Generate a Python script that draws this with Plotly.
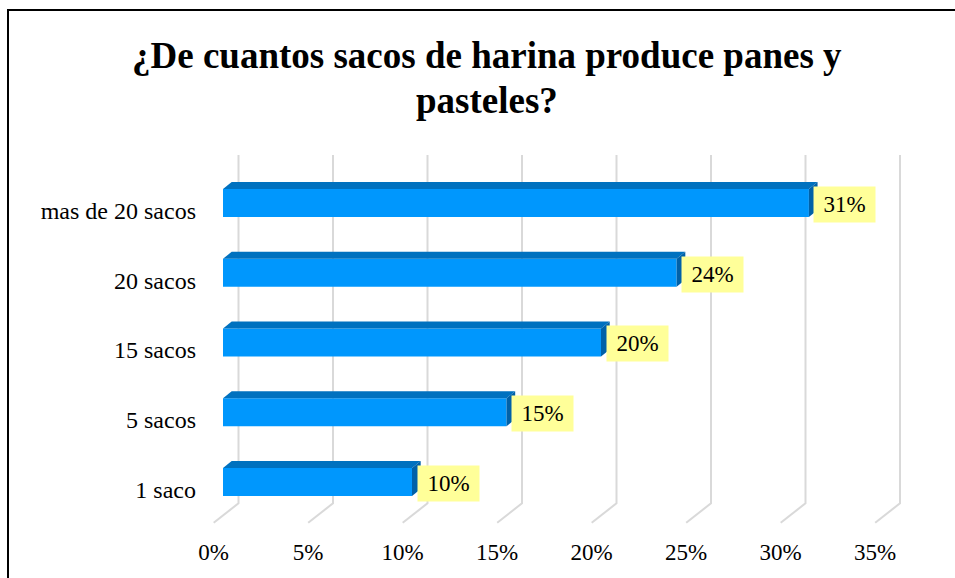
import plotly.graph_objects as go

# Survey answers: how many sacks of flour go into bread and cakes
categories = ["1 saco", "5 sacos", "15 sacos", "20 sacos", "mas de 20 sacos"]
shares = [10, 15, 20, 24, 31]          # percent of respondents
x_ticks = [0, 5, 10, 15, 20, 25, 30, 35]
title_lines = ["¿De cuantos sacos de harina produce panes y", "pasteles?"]

FONT = "Liberation Serif"
W, H = 955, 578
L, R, T, B = 205, 10, 150, 48
PW, PH = W - L - R, H - T - B

FRONT = "#0097FD"
TOP = "#0071BF"
SIDE = "#0061A8"
GRID = "#D9D9D9"

# pseudo-3D geometry, in axis units
PX_PER_PCT = 18.9
PX_PER_CAT = 69.75
bar_lo, bar_w = -0.093, 0.401        # front face relative to category centre
depth_dx, depth_dy = 0.46, 0.10      # bar depth (top / side faces)
wall_dx = 0.82                       # back wall offset of the grid
floor_dx = -0.492                    # front edge of the floor
grid_top, wall_base, floor_front = 4.796, -0.198, -0.476

x_range = [(L - 223) / PX_PER_PCT, (W - R - 223) / PX_PER_PCT]
lab_range = [x_range[0] - floor_dx, x_range[1] - floor_dx]
y_range = [-(T + PH - 489.5) / PX_PER_CAT, 4 + (210.5 - T) / PX_PER_CAT]

ypos = list(range(len(categories)))


def px_to_paper(px, py):
    return (px - L) / PW, 1 - (py - T) / PH


fig = go.Figure()

fig.add_trace(go.Bar(
    x=shares, y=ypos, orientation="h",
    base=0, width=bar_w, offset=bar_lo,
    marker=dict(color=FRONT, line=dict(width=0)),
    hoverinfo="skip", showlegend=False,
))
# overlay axis that carries the percentage tick labels along the floor edge
fig.add_trace(go.Scatter(x=[None], y=[None], xaxis="x2", yaxis="y",
                         showlegend=False, hoverinfo="skip"))

shapes = []
# back-wall gridlines bending onto the floor
for v in x_ticks:
    xb = v + wall_dx
    xf = v + floor_dx
    shapes.append(dict(type="path", xref="x", yref="y", layer="below",
                       path=f"M {xb},{grid_top} L {xb},{wall_base} L {xf},{floor_front}",
                       line=dict(color=GRID, width=2)))

# top and side faces of each bar
for yc, v in zip(ypos, shares):
    ft = yc + bar_lo + bar_w
    fb = yc + bar_lo
    shapes.append(dict(type="path", xref="x", yref="y",
                       path=(f"M 0,{ft} L {v},{ft} L {v + depth_dx},{ft + depth_dy} "
                             f"L {depth_dx},{ft + depth_dy} Z"),
                       fillcolor=TOP, line=dict(width=0)))
    shapes.append(dict(type="path", xref="x", yref="y",
                       path=(f"M {v},{ft} L {v + depth_dx},{ft + depth_dy} "
                             f"L {v + depth_dx},{fb + depth_dy} L {v},{fb} Z"),
                       fillcolor=SIDE, line=dict(width=0)))

# outer frame of the chart
bx0, by0 = px_to_paper(8, 10)
bx1, by1 = px_to_paper(W + 20, H + 20)
shapes.append(dict(type="rect", xref="paper", yref="paper",
                   x0=bx0, y0=by1, x1=bx1, y1=by0,
                   line=dict(color="black", width=2), fillcolor="rgba(0,0,0,0)"))

annotations = []
for yc, v in zip(ypos, shares):
    annotations.append(dict(
        x=v, y=yc + 0.088, xref="x", yref="y",
        text=f"{v}%", showarrow=False,
        xanchor="left", yanchor="middle", xshift=4.5,
        width=61, height=35, align="center", valign="middle",
        bgcolor="#FFFF99", borderpad=0,
        font=dict(family=FONT, size=23, color="black"),
    ))

for line, py in zip(title_lines, [55, 100]):
    tx, ty = px_to_paper(486.5, py)
    annotations.append(dict(
        x=tx, y=ty, xref="paper", yref="paper", text=f"<b>{line}</b>",
        showarrow=False, xanchor="center", yanchor="middle",
        font=dict(family=FONT, size=37, color="black"),
    ))

fig.update_layout(
    width=W, height=H,
    margin=dict(l=L, r=R, t=T, b=B, autoexpand=False),
    paper_bgcolor="white", plot_bgcolor="white",
    showlegend=False,
    xaxis=dict(range=x_range, showgrid=False, zeroline=False, showline=False,
               showticklabels=False, ticks=""),
    xaxis2=dict(range=lab_range, overlaying="x", side="bottom", anchor="y",
                tickmode="array", tickvals=x_ticks,
                ticktext=[f"{t}%" for t in x_ticks],
                showgrid=False, zeroline=False, showline=False, ticks="",
                ticklabelstandoff=6,
                tickfont=dict(family=FONT, size=23, color="black")),
    yaxis=dict(range=y_range, tickmode="array", tickvals=ypos, ticktext=categories,
               showgrid=False, zeroline=False, showline=False, ticks="",
               ticklabelstandoff=8,
               tickfont=dict(family=FONT, size=24, color="black")),
    shapes=shapes,
    annotations=annotations,
)

fig.write_html("out.html")
